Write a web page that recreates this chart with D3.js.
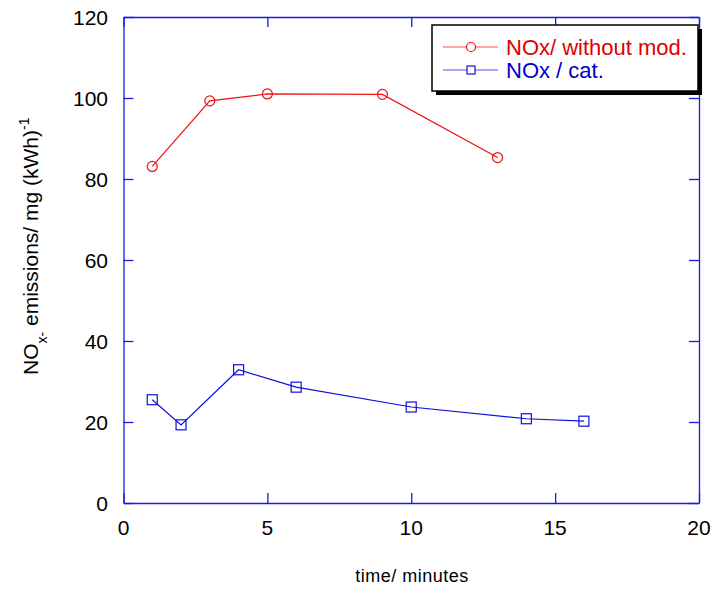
<!DOCTYPE html>
<html>
<head>
<meta charset="utf-8">
<script src="https://cdn.jsdelivr.net/npm/d3@7/dist/d3.min.js"></script>
<style>
  html, body { margin: 0; padding: 0; background: #fff; }
  svg { display: block; font-family: "Liberation Sans", Arial, sans-serif; }
</style>
</head>
<body>
<script>
// NOx emissions over time, with and without the catalyst
const timeWithoutMod = [1, 3, 5, 9, 13];
const noxWithoutMod  = [83.1, 99.3, 101.0, 100.9, 85.3];
const timeCat = [1, 2, 4, 6, 10, 14, 16];
const noxCat  = [25.5, 19.3, 32.9, 28.6, 23.7, 20.8, 20.2];
const xTicks = [0, 5, 10, 15, 20];
const yTicks = [0, 20, 40, 60, 80, 100, 120];
const seriesNames = ["NOx/ without mod.", "NOx / cat."];

const W = 714, H = 590;
const plotLeft = 123.5, plotRight = 699, plotTop = 17, plotBottom = 503;
const frameColor = "#1a1ae6";
const red = "#ee1111", blue = "#1010dd";
const redText = "#dd0000", blueText = "#0000cc";

const svg = d3.select("body").append("svg").attr("width", W).attr("height", H);

const x = d3.scaleLinear().domain([0, 20]).range([plotLeft, plotRight]);
const y = d3.scaleLinear().domain([0, 120]).range([plotBottom, plotTop]);

const tickLen = 10;
// Axes with inward ticks on all four sides
const axes = [
  d3.axisBottom(x).tickValues(xTicks).tickSizeInner(-tickLen).tickSizeOuter(0).tickFormat(""),
  d3.axisTop(x).tickValues(xTicks).tickSizeInner(-tickLen).tickSizeOuter(0).tickFormat(""),
  d3.axisLeft(y).tickValues(yTicks).tickSizeInner(-tickLen).tickSizeOuter(0).tickFormat(""),
  d3.axisRight(y).tickValues(yTicks).tickSizeInner(-tickLen).tickSizeOuter(0).tickFormat("")
];
const offsets = [[0, plotBottom], [0, plotTop], [plotLeft, 0], [plotRight, 0]];
axes.forEach((ax, i) => {
  const g = svg.append("g").attr("transform", `translate(${offsets[i][0]},${offsets[i][1]})`).call(ax);
  g.selectAll("path, line").attr("stroke", frameColor).attr("stroke-width", 1.3);
});

// Tick labels
svg.append("g").selectAll("text").data(xTicks).join("text")
  .attr("x", d => x(d)).attr("y", 535)
  .attr("text-anchor", "middle").attr("font-size", 21).attr("fill", "#000")
  .text(d => d);
svg.append("g").selectAll("text").data(yTicks).join("text")
  .attr("x", 108).attr("y", d => y(d) + 7.5)
  .attr("text-anchor", "end").attr("font-size", 21).attr("fill", "#000")
  .text(d => d);

// Axis titles
svg.append("text").attr("x", 412).attr("y", 582)
  .attr("text-anchor", "middle").attr("font-size", 18).attr("letter-spacing", 0.5)
  .attr("fill", "#000")
  .text("time/ minutes");

const yt = svg.append("text")
  .attr("transform", `translate(38,375) rotate(-90)`)
  .attr("text-anchor", "start").attr("font-size", 21).attr("fill", "#000");
yt.append("tspan").text("NO");
yt.append("tspan").attr("font-size", 14).attr("dy", 9).text("x-");
yt.append("tspan").attr("dy", -9).text(" emissions/ mg (kWh)");
yt.append("tspan").attr("font-size", 14).attr("dy", -9).text("-1");

// Series
const line = d3.line().x(d => x(d[0])).y(d => y(d[1]));
const redData = timeWithoutMod.map((t, i) => [t, noxWithoutMod[i]]);
const blueData = timeCat.map((t, i) => [t, noxCat[i]]);

svg.append("path").datum(redData).attr("d", line)
  .attr("fill", "none").attr("stroke", red).attr("stroke-width", 1.2);
svg.append("g").selectAll("circle").data(redData).join("circle")
  .attr("cx", d => x(d[0])).attr("cy", d => y(d[1])).attr("r", 5)
  .attr("fill", "none").attr("stroke", red).attr("stroke-width", 1.2);

svg.append("path").datum(blueData).attr("d", line)
  .attr("fill", "none").attr("stroke", blue).attr("stroke-width", 1.2);
const sq = 10;
svg.append("g").selectAll("rect").data(blueData).join("rect")
  .attr("x", d => x(d[0]) - sq / 2).attr("y", d => y(d[1]) - sq / 2)
  .attr("width", sq).attr("height", sq)
  .attr("fill", "none").attr("stroke", blue).attr("stroke-width", 1.2);

// Legend with drop shadow
const lg = svg.append("g");
lg.append("rect").attr("x", 436).attr("y", 29).attr("width", 266).attr("height", 66).attr("fill", "#000");
lg.append("rect").attr("x", 432).attr("y", 25).attr("width", 266).attr("height", 66)
  .attr("fill", "#fff").attr("stroke", "#000").attr("stroke-width", 1.5);

const legendRows = [
  { name: seriesNames[0], color: red, textColor: redText, shape: "circle", cy: 47 },
  { name: seriesNames[1], color: blue, textColor: blueText, shape: "square", cy: 70 }
];
legendRows.forEach(r => {
  lg.append("line").attr("x1", 443).attr("x2", 498).attr("y1", r.cy).attr("y2", r.cy)
    .attr("stroke", r.color).attr("stroke-width", 1.2).attr("opacity", 0.7);
  if (r.shape === "circle") {
    lg.append("circle").attr("cx", 471).attr("cy", r.cy).attr("r", 4.5)
      .attr("fill", "#fff").attr("stroke", r.color).attr("stroke-width", 1.2);
  } else {
    lg.append("rect").attr("x", 471 - 4).attr("y", r.cy - 4).attr("width", 8).attr("height", 8)
      .attr("fill", "#fff").attr("stroke", r.color).attr("stroke-width", 1.2);
  }
  lg.append("text").attr("x", 506).attr("y", r.cy + 7.5).attr("font-size", 22)
    .attr("fill", r.textColor).text(r.name);
});
</script>
</body>
</html>
